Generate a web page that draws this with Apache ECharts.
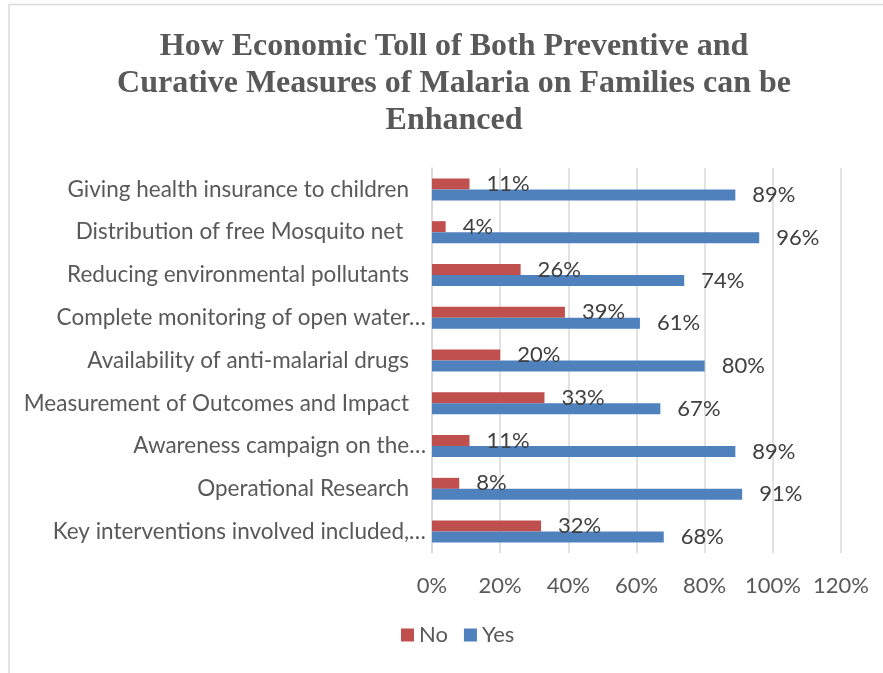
<!DOCTYPE html>
<html>
<head>
<meta charset="utf-8">
<script src="https://cdn.jsdelivr.net/npm/echarts@6/dist/echarts.min.js"></script>
<style>
  html, body { margin: 0; padding: 0; background: #ffffff; }
  #chart { width: 883px; height: 673px; }
</style>
</head>
<body>
<div id="chart"></div>
<script>
// Survey responses on ways to ease the economic toll of malaria measures
const categories = [
  'Giving health insurance to children',
  'Distribution of free Mosquito net ',
  'Reducing environmental pollutants',
  'Complete monitoring of open water…',
  'Availability of anti-malarial drugs',
  'Measurement of Outcomes and Impact',
  'Awareness campaign on the…',
  'Operational Research',
  'Key interventions involved included,…'
];
const noValues = [11, 4, 26, 39, 20, 33, 11, 8, 32];
const yesValues = [89, 96, 74, 61, 80, 67, 89, 91, 68];
const xTicks = [0, 20, 40, 60, 80, 100, 120];

const textColor = '#595959';
const labelFont = 'Lato, Calibri, Carlito, sans-serif';

const chart = echarts.init(document.getElementById('chart'));

const valueLabel = {
  show: true,
  position: 'right',
  distance: 17,
  color: '#404040',
  fontFamily: labelFont,
  fontSize: 22,
  formatter: p => p.value + '%'
};

chart.setOption({
  animation: false,
  backgroundColor: '#ffffff',
  title: {
    text: 'How Economic Toll of Both Preventive and\nCurative Measures of Malaria on Families can be\nEnhanced',
    left: 449,
    top: 23,
    textAlign: 'center',
    textStyle: {
      fontFamily: '"Liberation Serif", "Times New Roman", serif',
      fontWeight: 'bold',
      fontSize: 32,
      lineHeight: 37,
      color: textColor
    }
  },
  legend: {
    bottom: 22,
    left: 396,
    itemWidth: 13,
    itemHeight: 13,
    itemGap: 16,
    icon: 'rect',
    textStyle: { fontFamily: labelFont, fontSize: 22, color: textColor },
    data: ['No', 'Yes']
  },
  grid: { left: 432, right: 42, top: 168, bottom: 120, containLabel: false },
  xAxis: {
    type: 'value',
    min: xTicks[0],
    max: xTicks[xTicks.length - 1],
    interval: 20,
    axisLine: { show: false },
    axisTick: { show: false },
    splitLine: { lineStyle: { color: '#d9d9d9', width: 1.5 } },
    axisLabel: {
      margin: 22,
      color: textColor,
      fontFamily: labelFont,
      fontSize: 22,
      formatter: v => v + '%'
    }
  },
  yAxis: {
    type: 'category',
    inverse: true,
    data: categories,
    axisLine: { show: true, lineStyle: { color: '#d9d9d9', width: 1.5 } },
    axisTick: { show: false },
    axisLabel: {
      margin: 6,
      // shortened names run a little further right, up to the ellipsis
      formatter: v => v.endsWith('…') ? '{t|' + v + '}' : '{t|' + v + '}{pad|}',
      rich: {
        t: { color: textColor, fontFamily: labelFont, fontSize: 22.5 },
        pad: { width: 17 }
      }
    }
  },
  series: [
    {
      name: 'No',
      type: 'bar',
      data: noValues,
      barWidth: 11,
      barGap: '0%',
      itemStyle: { color: '#C0504D' },
      label: valueLabel
    },
    {
      name: 'Yes',
      type: 'bar',
      data: yesValues,
      barWidth: 11,
      barGap: '0%',
      itemStyle: { color: '#4F81BD' },
      label: valueLabel
    }
  ],
  graphic: [
    {
      type: 'polyline',
      shape: { points: [[9, 673], [9, 4.5], [883, 4.5]] },
      style: { stroke: '#d9d9d9', lineWidth: 1.5, fill: null },
      silent: true
    }
  ]
});
</script>
</body>
</html>
